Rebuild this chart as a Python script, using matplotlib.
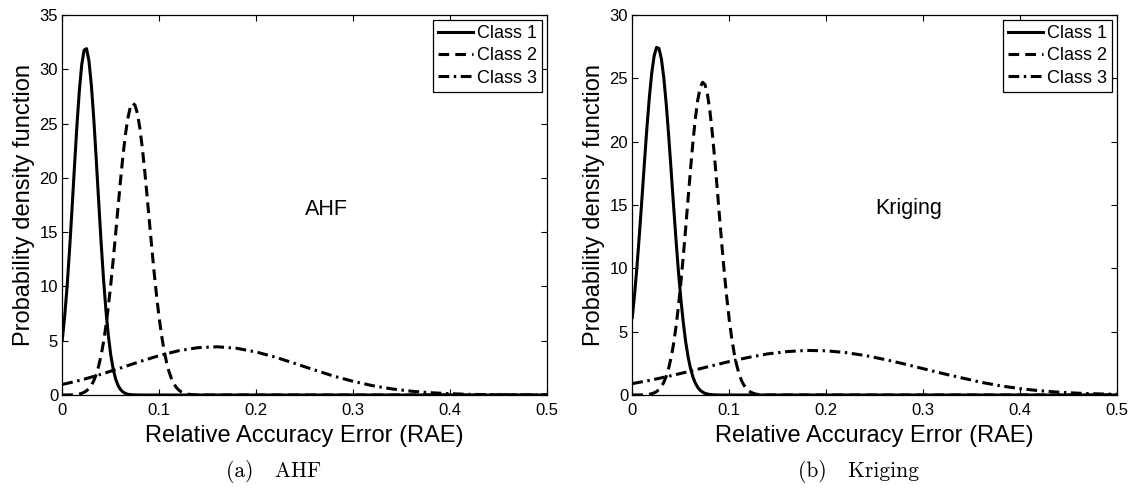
import matplotlib.pyplot as plt

# -------------------------------
# Data
# -------------------------------
CLASS_NAMES = ["Class 1", "Class 2", "Class 3"]
PANEL_NAMES = ["AHF", "Kriging"]
CAPTIONS = ["(a)   AHF", "(b)   Kriging"]
X_TICKS = [0, 0.1, 0.2, 0.3, 0.4, 0.5]
X_TICK_LABELS = ["0", "0.1", "0.2", "0.3", "0.4", "0.5"]
Y_TICKS_AHF = [0, 5, 10, 15, 20, 25, 30, 35]
Y_TICKS_KRIGING = [0, 5, 10, 15, 20, 25, 30]

# sample positions (RAE)
X_C1_AHF = [0.0, 0.0025, 0.005, 0.0075, 0.01, 0.0125, 0.015, 0.0175, 0.02, 0.0225,
            0.025, 0.0275, 0.03, 0.0325, 0.035, 0.0375, 0.04, 0.0425, 0.045, 0.0475,
            0.05, 0.0525, 0.055, 0.0575, 0.06, 0.0625, 0.065, 0.0675, 0.07, 0.0725,
            0.075, 0.08, 0.5]
X_C1_KRIGING = [0.0, 0.0025, 0.005, 0.0075, 0.01, 0.0125, 0.015, 0.0175, 0.02, 0.0225,
                0.025, 0.0275, 0.03, 0.0325, 0.035, 0.0375, 0.04, 0.0425, 0.045, 0.0475,
                0.05, 0.0525, 0.055, 0.0575, 0.06, 0.0625, 0.065, 0.0675, 0.07, 0.0725,
                0.075, 0.0775, 0.08, 0.0825, 0.085, 0.09, 0.5]
X_C2 = [0.0, 0.01, 0.015, 0.0175, 0.02, 0.0225, 0.025, 0.0275, 0.03, 0.0325, 0.035,
        0.0375, 0.04, 0.0425, 0.045, 0.0475, 0.05, 0.0525, 0.055, 0.0575, 0.06,
        0.0625, 0.065, 0.0675, 0.07, 0.0725, 0.075, 0.0775, 0.08, 0.0825, 0.085,
        0.0875, 0.09, 0.0925, 0.095, 0.0975, 0.1, 0.1025, 0.105, 0.1075, 0.11,
        0.1125, 0.115, 0.1175, 0.12, 0.1225, 0.125, 0.1275, 0.13, 0.135, 0.14, 0.5]
X_C3 = [0.0, 0.02, 0.04, 0.06, 0.08, 0.1, 0.12, 0.14, 0.16, 0.18, 0.2, 0.22, 0.24,
        0.26, 0.28, 0.3, 0.32, 0.34, 0.36, 0.38, 0.4, 0.42, 0.44, 0.46, 0.48, 0.5]

# probability density values
AHF_C1 = [5.07, 7.29, 10.08, 13.39, 17.09, 20.96, 24.69, 27.95, 30.40, 31.77,
          31.90, 30.77, 28.52, 25.40, 21.73, 17.86, 14.11, 10.70, 7.80, 5.47,
          3.68, 2.38, 1.48, 0.88, 0.51, 0.28, 0.15, 0.07, 0.04, 0.02,
          0.01, 0.0, 0.0]
AHF_C2 = [0.0, 0.01, 0.06, 0.09, 0.15, 0.25, 0.39, 0.60, 0.90, 1.32, 1.90, 2.66,
          3.64, 4.87, 6.37, 8.15, 10.18, 12.44, 14.84, 17.30, 19.72, 21.97, 23.92,
          25.44, 26.46, 26.89, 26.70, 25.92, 24.58, 22.79, 20.65, 18.28, 15.82,
          13.38, 11.06, 8.94, 7.05, 5.44, 4.10, 3.02, 2.18, 1.53, 1.05, 0.71,
          0.47, 0.30, 0.19, 0.11, 0.07, 0.02, 0.0, 0.0]
AHF_C3 = [0.97, 1.39, 1.91, 2.48, 3.08, 3.63, 4.08, 4.36, 4.44, 4.30, 3.96, 3.48,
          2.90, 2.31, 1.74, 1.26, 0.86, 0.56, 0.35, 0.21, 0.12, 0.06, 0.03, 0.02,
          0.01, 0.0]

KRIGING_C1 = [6.12, 8.06, 10.32, 12.86, 15.57, 18.34, 21.02, 23.42, 25.39, 26.76,
              27.44, 27.36, 26.54, 25.04, 22.97, 20.50, 17.79, 15.02, 12.33, 9.84,
              7.65, 5.78, 4.24, 3.03, 2.11, 1.43, 0.94, 0.60, 0.37, 0.23,
              0.13, 0.08, 0.04, 0.02, 0.01, 0.0, 0.0]
KRIGING_C2 = [0.0, 0.01, 0.03, 0.06, 0.10, 0.17, 0.27, 0.43, 0.67, 1.00, 1.47, 2.11,
              2.94, 4.01, 5.34, 6.94, 8.79, 10.87, 13.12, 15.45, 17.76, 19.92, 21.80,
              23.28, 24.27, 24.69, 24.51, 23.74, 22.45, 20.71, 18.64, 16.38, 14.04,
              11.75, 9.60, 7.65, 5.95, 4.51, 3.34, 2.42, 1.70, 1.17, 0.79, 0.52,
              0.33, 0.21, 0.13, 0.07, 0.04, 0.01, 0.0, 0.0]
KRIGING_C3 = [0.90, 1.19, 1.52, 1.89, 2.27, 2.64, 2.97, 3.25, 3.43, 3.52, 3.49, 3.35,
              3.12, 2.81, 2.46, 2.08, 1.70, 1.35, 1.00, 0.72, 0.50, 0.34, 0.22, 0.14,
              0.09, 0.05]

plt.rcParams["font.family"] = ["Liberation Sans", "DejaVu Sans"]

LINESTYLES = ["-", (0, (3.5, 2.0)), (0, (3.5, 1.5, 0.8, 1.5))]


# -------------------------------
# One panel
# -------------------------------
def draw_panel(ax, xs, ys, yticks, name, name_xy):
    for x, y, ls, label in zip(xs, ys, LINESTYLES, CLASS_NAMES):
        ax.plot(x, y, color="black", lw=2.2, ls=ls, label=label)

    ax.set_xlim(X_TICKS[0], X_TICKS[-1])
    ax.set_ylim(yticks[0], yticks[-1])
    ax.set_xticks(X_TICKS)
    ax.set_xticklabels(X_TICK_LABELS)
    ax.set_yticks(yticks)
    ax.tick_params(direction="in", length=4, width=0.8, top=True, right=True,
                   labelsize=12, colors="black")
    ax.tick_params(axis="x", pad=6)
    ax.tick_params(axis="y", pad=3)
    for sp in ax.spines.values():
        sp.set_linewidth(0.9)

    ax.set_xlabel("Relative Accuracy Error (RAE)", fontsize=17, labelpad=5)
    ax.set_ylabel("Probability density function", fontsize=17, labelpad=3)
    ax.text(name_xy[0], name_xy[1], name, fontsize=15.5, ha="left", va="baseline")

    leg = ax.legend(loc="upper right", fontsize=13, fancybox=False, framealpha=1,
                    edgecolor="black", borderaxespad=0.25, borderpad=0.3,
                    handlelength=1.95, handletextpad=0.2, labelspacing=0.3)
    leg.get_frame().set_linewidth(0.9)


fig = plt.figure(figsize=(11.35, 4.9), dpi=100)
ax_a = fig.add_axes([62.3 / 1135, 95 / 490, 484.7 / 1135, 380 / 490])
ax_b = fig.add_axes([632.3 / 1135, 95 / 490, 484.7 / 1135, 380 / 490])

draw_panel(ax_a, [X_C1_AHF, X_C2, X_C3], [AHF_C1, AHF_C2, AHF_C3],
           Y_TICKS_AHF, PANEL_NAMES[0], (0.25, 16.6))
draw_panel(ax_b, [X_C1_KRIGING, X_C2, X_C3], [KRIGING_C1, KRIGING_C2, KRIGING_C3],
           Y_TICKS_KRIGING, PANEL_NAMES[1], (0.251, 14.3))

fig.text(274 / 1135, 1 - 471 / 490, CAPTIONS[0], family="cmr10", fontsize=15.5,
         ha="center", va="center")
fig.text(859 / 1135, 1 - 471 / 490, CAPTIONS[1], family="cmr10", fontsize=15.5,
         ha="center", va="center")

fig.savefig("out.png", dpi=100)
